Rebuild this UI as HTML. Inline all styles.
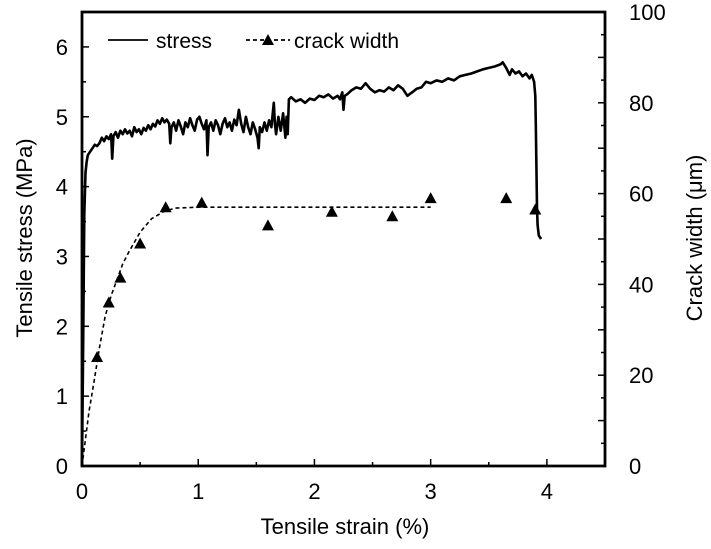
<!DOCTYPE html>
<html><head><meta charset="utf-8"><style>
html,body{margin:0;padding:0;background:#fff;}
svg{display:block;font-family:"Liberation Sans",sans-serif;}
</style></head><body>
<svg id="chart" width="711" height="549" viewBox="0 0 711 549">
<g id="axes"></g>
<g id="series"></g>
<g>
<line x1="108" y1="40" x2="148" y2="40" stroke="#000" stroke-width="1.8"/>
<text x="156" y="48" font-size="21">stress</text>
<line x1="246" y1="40" x2="290" y2="40" stroke="#000" stroke-width="1.8" stroke-dasharray="4,3"/>
<path d="M262,45 L268,34 L274,45 Z" fill="#000"/>
<text x="294" y="48" font-size="21">crack width</text>
</g>
<text x="345" y="534" font-size="22" text-anchor="middle">Tensile strain (%)</text>
<text transform="translate(32,238) rotate(-90)" font-size="22" text-anchor="middle">Tensile stress (MPa)</text>
<text transform="translate(702,238) rotate(-90)" font-size="22" text-anchor="middle">Crack width (μm)</text>
</svg>
<script>
const strain=[0,0.01,0.02,0.03,0.04,0.05,0.07,0.09,0.11,0.13,0.15,0.17,0.19,0.21,0.23,0.25,0.26,0.27,0.29,0.31,0.33,0.35,0.37,0.39,0.41,0.43,0.45,0.47,0.49,0.51,0.53,0.55,0.57,0.59,0.61,0.63,0.65,0.67,0.69,0.71,0.73,0.75,0.76,0.77,0.79,0.81,0.83,0.85,0.87,0.89,0.91,0.93,0.95,0.97,0.99,1.01,1.03,1.05,1.07,1.08,1.09,1.11,1.13,1.15,1.17,1.19,1.21,1.23,1.25,1.27,1.29,1.31,1.33,1.35,1.37,1.39,1.41,1.43,1.45,1.47,1.49,1.51,1.52,1.53,1.55,1.57,1.59,1.61,1.63,1.65,1.66,1.67,1.69,1.71,1.73,1.75,1.76,1.77,1.78,1.80,1.84,1.88,1.92,1.96,2.00,2.04,2.08,2.12,2.16,2.20,2.22,2.24,2.25,2.26,2.28,2.32,2.36,2.40,2.44,2.48,2.52,2.56,2.60,2.64,2.68,2.72,2.76,2.80,2.84,2.88,2.92,2.96,3.00,3.05,3.10,3.15,3.20,3.25,3.30,3.35,3.40,3.45,3.50,3.55,3.60,3.62,3.65,3.68,3.70,3.73,3.76,3.79,3.82,3.85,3.87,3.89,3.90,3.905,3.91,3.915,3.92,3.93,3.95];
const stress=[0,1.8,3.6,4.2,4.35,4.45,4.5,4.55,4.6,4.58,4.62,4.7,4.65,4.72,4.68,4.75,4.4,4.72,4.78,4.7,4.8,4.75,4.82,4.76,4.8,4.72,4.85,4.78,4.82,4.75,4.84,4.8,4.88,4.82,4.9,4.86,4.95,4.9,4.98,4.92,4.96,4.9,4.62,4.85,4.92,4.8,4.95,4.86,4.75,4.92,4.85,4.98,4.88,4.8,4.96,5.0,4.9,4.82,4.95,4.45,4.85,4.92,4.8,4.95,4.88,4.75,4.9,4.98,4.85,4.92,4.8,4.96,4.88,5.1,4.9,4.78,5.0,4.85,4.75,4.92,4.82,4.7,4.55,4.85,4.78,4.92,4.8,4.95,4.85,5.2,4.9,4.75,5.0,4.8,5.05,4.7,5.0,4.75,5.25,5.28,5.22,5.25,5.2,5.26,5.24,5.3,5.28,5.32,5.26,5.3,5.25,5.35,5.1,5.3,5.32,5.38,5.42,5.4,5.48,5.4,5.35,5.38,5.36,5.42,5.38,5.45,5.4,5.3,5.35,5.4,5.42,5.5,5.48,5.52,5.5,5.55,5.52,5.58,5.6,5.62,5.65,5.68,5.7,5.72,5.75,5.78,5.7,5.6,5.68,5.62,5.65,5.58,5.62,5.55,5.6,5.5,5.3,4.9,4.3,3.7,3.45,3.3,3.25];
const crackStrain=[0.13,0.23,0.33,0.5,0.72,1.03,1.6,2.15,2.67,3.0,3.65,3.9];
const crackWidth=[24,36,41.5,49,57,58,53,56,55,59,59,56.5];
const fitStrain=[0,0.03,0.06,0.1,0.15,0.2,0.25,0.3,0.35,0.4,0.5,0.6,0.7,0.8,1.0,3.0];
const fitWidth=[0,6,12,18,26,33,37.5,41,44.5,47,51.5,54.5,56,56.8,57,57];
const xTicks=[0,1,2,3,4];
const yTicks=[0,1,2,3,4,5,6];
const y2Ticks=[0,20,40,60,80,100];

const L=82,R=605,T=12,B=466;
const X=v=>L+(v/4.5)*(R-L);
const Y=v=>B-(v/6.5)*(B-T);
const Y2=v=>B-(v/100)*(B-T);
const NS='http://www.w3.org/2000/svg';
function mk(tag,attrs,parent){const e=document.createElementNS(NS,tag);for(const k in attrs)e.setAttribute(k,attrs[k]);parent.appendChild(e);return e;}
const axes=document.getElementById('axes'),series=document.getElementById('series');

const frame=mk('path',{d:`M${L},${T} H${R} V${B} H${L} Z`,fill:'none',stroke:'#000','stroke-width':2.8},axes);


for(let v=0;v<=4.5001;v+=0.5){const major=Math.abs(v-Math.round(v))<1e-6;
 const t=mk('line',{x1:X(v),x2:X(v),y1:B,y2:B-(major?7:4),stroke:'#000','stroke-width':1.5},axes);
 
 }
xTicks.forEach(v=>{const t=mk('text',{x:X(v),y:B+33,'font-size':22,'text-anchor':'middle'},axes);t.textContent=v;
 
 });
for(let v=0;v<=6.5001;v+=0.5){const major=Math.abs(v-Math.round(v))<1e-6;
 const t=mk('line',{x1:L,x2:L+(major?7:4),y1:Y(v),y2:Y(v),stroke:'#000','stroke-width':1.5},axes);
 
 }
yTicks.forEach(v=>{const t=mk('text',{x:L-14,y:Y(v)+8,'font-size':22,'text-anchor':'end'},axes);t.textContent=v;
 
 });
for(let v=0;v<=100;v+=5){const major=v%10===0;
 const t=mk('line',{x1:R,x2:R-(major?7:4),y1:Y2(v),y2:Y2(v),stroke:'#000','stroke-width':1.5},axes);
 
 }
y2Ticks.forEach(v=>{const t=mk('text',{x:R+24,y:Y2(v)+8,'font-size':22,'text-anchor':'start'},axes);t.textContent=v;
 
 });

const sp=mk('path',{d:strain.map((s,i)=>(i?'L':'M')+X(s).toFixed(1)+','+Y(stress[i]).toFixed(1)).join(' '),fill:'none',stroke:'#000','stroke-width':2.6,'stroke-linejoin':'round'},series);


const fp=mk('path',{d:fitStrain.map((s,i)=>(i?'L':'M')+X(s).toFixed(1)+','+Y2(fitWidth[i]).toFixed(1)).join(' '),fill:'none',stroke:'#000','stroke-width':1.6,'stroke-dasharray':'4,3'},series);


crackStrain.forEach((s,i)=>{const cx=X(s),cy=Y2(crackWidth[i]);
 const m=mk('path',{d:`M${cx-6},${cy+5} L${cx},${cy-6} L${cx+6},${cy+5} Z`,fill:'#000'},series);
 
 });
</script>
</body></html>
